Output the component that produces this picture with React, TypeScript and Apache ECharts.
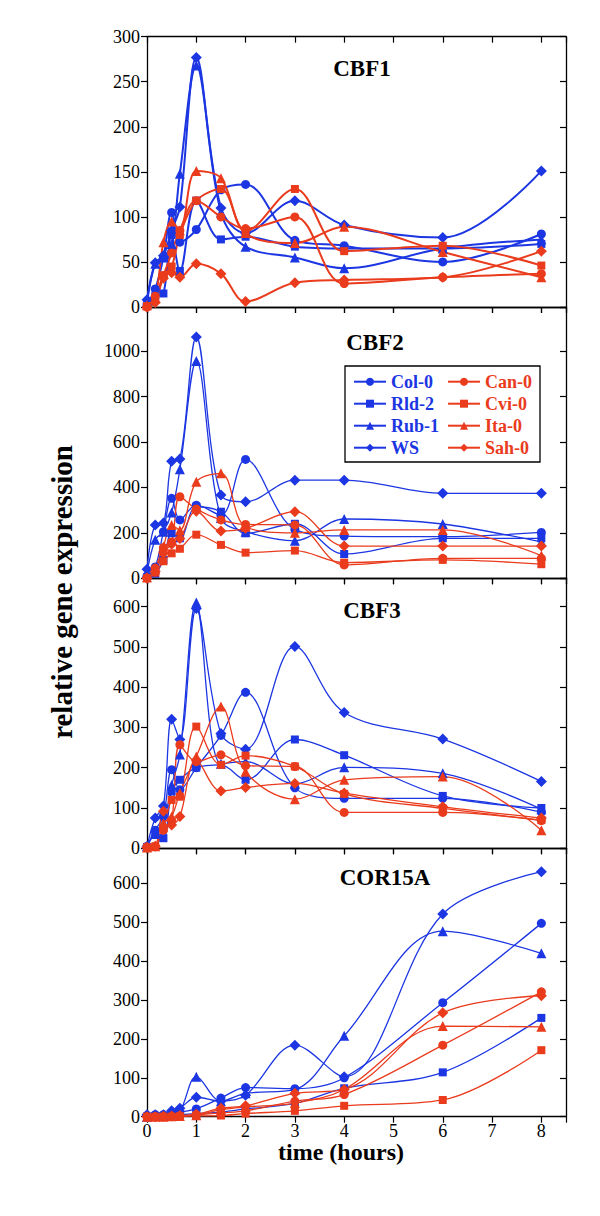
import React, { useEffect, useRef } from "react";
import * as echarts from "echarts";

const times = [0, 0.167, 0.333, 0.5, 0.667, 1, 1.5, 2, 3, 4, 6, 8];
const xTicks = [0, 1, 2, 3, 4, 5, 6, 7, 8];

const blueNames = ["Col-0", "Rld-2", "Rub-1", "WS"];
const redNames = ["Can-0", "Cvi-0", "Ita-0", "Sah-0"];

// CBF1
const cbf1Col0 = [3, 20, 55, 105, 72, 86, 130, 136, 74, 68, 50, 81];
const cbf1Rld2 = [2, 12, 15, 80, 40, 118, 75, 78, 67, 65, 65, 70];
const cbf1Rub1 = [5, 48, 55, 70, 148, 268, 105, 67, 55, 43, 65, 75];
const cbf1WS = [8, 49, 57, 85, 111, 277, 110, 82, 118, 91, 77, 151];
const cbf1Can0 = [0, 12, 35, 60, 85, 118, 100, 87, 100, 26, 33, 37];
const cbf1Cvi0 = [1, 8, 35, 45, 80, 118, 131, 84, 131, 62, 68, 46];
const cbf1Ita0 = [2, 10, 72, 95, 85, 151, 143, 82, 71, 89, 61, 33];
const cbf1Sah0 = [0, 5, 32, 38, 33, 48, 37, 6, 27, 30, 33, 62];

// CBF2
const cbf2Col0 = [10, 50, 205, 352, 257, 322, 278, 523, 215, 186, 183, 202];
const cbf2Rld2 = [5, 20, 80, 198, 176, 315, 293, 198, 240, 107, 176, 176];
const cbf2Rub1 = [25, 170, 205, 290, 480, 956, 265, 205, 165, 261, 239, 160];
const cbf2WS = [40, 235, 243, 515, 525, 1062, 367, 337, 432, 432, 374, 374];
const cbf2Can0 = [2, 45, 135, 160, 359, 305, 257, 237, 235, 59, 88, 88];
const cbf2Cvi0 = [0, 25, 75, 110, 130, 192, 147, 113, 122, 69, 81, 62];
const cbf2Ita0 = [5, 40, 140, 235, 212, 425, 462, 227, 200, 213, 213, 100];
const cbf2Sah0 = [0, 30, 110, 150, 175, 295, 208, 220, 293, 142, 142, 142];

// CBF3
const cbf3Col0 = [5, 45, 80, 195, 145, 200, 280, 387, 150, 124, 124, 90];
const cbf3Rld2 = [3, 33, 25, 141, 170, 200, 207, 170, 270, 231, 130, 100];
const cbf3Rub1 = [5, 40, 62, 157, 233, 610, 210, 215, 160, 201, 186, 97];
const cbf3WS = [4, 75, 105, 320, 270, 595, 285, 246, 501, 337, 271, 166];
const cbf3Can0 = [3, 5, 45, 70, 257, 215, 232, 205, 203, 89, 89, 69];
const cbf3Cvi0 = [2, 5, 50, 120, 128, 302, 207, 230, 203, 135, 99, 70];
const cbf3Ita0 = [2, 5, 62, 79, 137, 228, 352, 190, 122, 170, 178, 45];
const cbf3Sah0 = [2, 5, 92, 58, 79, 219, 142, 151, 161, 137, 103, 75];

// COR15A
const corCol0 = [3, 5, 5, 10, 12, 20, 48, 75, 72, 100, 293, 497];
const corRld2 = [0, 2, 2, 4, 5, 8, 12, 20, 34, 73, 114, 254];
const corRub1 = [0, 2, 3, 10, 15, 103, 40, 60, 70, 208, 477, 420];
const corWS = [5, 5, 5, 15, 22, 50, 40, 55, 184, 103, 521, 630];
const corCan0 = [0, 0, 0, 1, 2, 5, 10, 15, 40, 57, 184, 321];
const corCvi0 = [0, 0, 0, 0, 1, 2, 3, 8, 15, 28, 43, 171];
const corIta0 = [0, 0, 0, 1, 2, 4, 18, 25, 35, 70, 233, 231];
const corSah0 = [0, 0, 1, 2, 3, 6, 22, 28, 60, 70, 267, 311];

const BLUE = "#1b36e2";
const RED = "#ea3b1d";
const FONT = "Liberation Serif, Times New Roman, serif";

const symbolOf: Record<string, string> = {
  "Col-0": "circle", "Rld-2": "rect", "Rub-1": "triangle", WS: "diamond",
  "Can-0": "circle", "Cvi-0": "rect", "Ita-0": "triangle", "Sah-0": "diamond",
};
const sizeOf: Record<string, number> = { circle: 9, rect: 8, triangle: 10, diamond: 11 };

const panels = [
  {
    title: "CBF1", tx: 362, ty: 68, top: 36.7, height: 270.3, max: 300, step: 50, lw: 2,
    values: [cbf1Col0, cbf1Rld2, cbf1Rub1, cbf1WS, cbf1Can0, cbf1Cvi0, cbf1Ita0, cbf1Sah0],
  },
  {
    title: "CBF2", tx: 375, ty: 342, top: 307, height: 271.3, max: 1194, step: 200, lw: 1.3,
    values: [cbf2Col0, cbf2Rld2, cbf2Rub1, cbf2WS, cbf2Can0, cbf2Cvi0, cbf2Ita0, cbf2Sah0],
  },
  {
    title: "CBF3", tx: 372, ty: 610, top: 578.3, height: 270, max: 670, step: 100, lw: 1.3,
    values: [cbf3Col0, cbf3Rld2, cbf3Rub1, cbf3WS, cbf3Can0, cbf3Cvi0, cbf3Ita0, cbf3Sah0],
  },
  {
    title: "COR15A", tx: 385, ty: 877, top: 848.3, height: 268.4, max: 690, step: 100, lw: 1.3,
    values: [corCol0, corRld2, corRub1, corWS, corCan0, corCvi0, corIta0, corSah0],
  },
];

const LEFT = 147;
const WIDTH = 419;

export default function App() {
  const ref = useRef<HTMLDivElement>(null);
  useEffect(() => {
    document.body.style.margin = "0";
    const chart = echarts.init(ref.current!, null, { renderer: "svg" });
    const names = [...blueNames, ...redNames];
    const axisLine = { show: true, onZero: false, lineStyle: { color: "#000", width: 1.3 } };
    const tickStyle = { color: "#000", width: 1.2 };
    const grid: any[] = [];
    const xAxis: any[] = [];
    const yAxis: any[] = [];
    const series: any[] = [];
    const graphic: any[] = [];
    panels.forEach((p, i) => {
      grid.push({ left: LEFT, top: p.top, width: WIDTH, height: p.height, containLabel: false });
      xAxis.push({
        gridIndex: i, type: "value", min: 0, max: 8.5, interval: 1, position: "bottom",
        axisLine, axisTick: { show: true, inside: false, length: 6, lineStyle: tickStyle },
        splitLine: { show: false },
        axisLabel: {
          show: i === 3, margin: 5, color: "#000", fontFamily: FONT, fontSize: 18,
          formatter: (v: number) => (xTicks.includes(v) ? String(v) : ""),
        },
      });
      xAxis.push({
        gridIndex: i, type: "value", min: 0, max: 8.5, interval: 1, position: "top",
        axisLine, axisTick: { show: true, inside: true, length: 6, lineStyle: tickStyle },
        splitLine: { show: false }, axisLabel: { show: false },
      });
      yAxis.push({
        gridIndex: i, type: "value", min: 0, max: p.max, interval: p.step, position: "left",
        axisLine, axisTick: { show: true, inside: false, length: 6, lineStyle: tickStyle },
        splitLine: { show: false },
        axisLabel: {
          margin: 7, color: "#000", fontFamily: FONT, fontSize: 18,
          formatter: (v: number) => (v % p.step === 0 ? String(v) : ""),
        },
      });
      yAxis.push({
        gridIndex: i, type: "value", min: 0, max: p.max, interval: p.step, position: "right",
        axisLine, axisTick: { show: true, inside: true, length: 6, lineStyle: tickStyle },
        splitLine: { show: false }, axisLabel: { show: false },
      });
      names.forEach((n, k) => {
        const color = k < 4 ? BLUE : RED;
        const sym = symbolOf[n];
        series.push({
          type: "line", name: n, xAxisIndex: i * 2, yAxisIndex: i * 2,
          data: times.map((t, j) => [t, p.values[k][j]]),
          smooth: 0.35, symbol: sym, symbolSize: sizeOf[sym],
          showAllSymbol: true,
          lineStyle: { color, width: p.lw },
          itemStyle: { color, borderWidth: 0 },
          emphasis: { disabled: true },
        });
      });
      graphic.push({
        type: "text", x: p.tx, y: p.ty, z: 10,
        style: {
          text: p.title, fontFamily: FONT, fontSize: 23, fontWeight: "bold", fill: "#000",
          textAlign: "center", textVerticalAlign: "middle", align: "center", verticalAlign: "middle",
        },
      });
    });
    graphic.push({
      type: "rect", z: 3,
      shape: { x: 345, y: 366, width: 195, height: 96 },
      style: { fill: "#fff", stroke: "#000", lineWidth: 1.3 },
    });
    graphic.push({
      type: "text", x: 341, y: 1152, z: 10,
      style: {
        text: "time (hours)", fontFamily: FONT, fontSize: 24, fontWeight: "bold", fill: "#000",
        textAlign: "center", textVerticalAlign: "middle", align: "center", verticalAlign: "middle",
      },
    });
    graphic.push({
      type: "text", x: 62, y: 592, rotation: Math.PI / 2, z: 10,
      style: {
        text: "relative gene expression", fontFamily: FONT, fontSize: 29, fontWeight: "bold", fill: "#000",
        textAlign: "center", textVerticalAlign: "middle", align: "center", verticalAlign: "middle",
      },
    });
    const legendBase = {
      orient: "vertical", itemWidth: 32, itemHeight: 10, itemGap: 0, padding: 0, top: 370.7,
      selectedMode: false, z: 5,
      textStyle: { fontFamily: FONT, fontSize: 18, fontWeight: "bold", lineHeight: 22 },
    };
    chart.setOption({
      animation: false,
      backgroundColor: "#fff",
      grid, xAxis, yAxis, series, graphic,
      legend: [
        { ...legendBase, left: 353, data: blueNames.map((n) => ({ name: n, textStyle: { color: BLUE } })) },
        { ...legendBase, left: 447, data: redNames.map((n) => ({ name: n, textStyle: { color: RED } })) },
      ],
    });
    return () => chart.dispose();
  }, []);
  return <div ref={ref} style={{ width: 600, height: 1216 }} />;
}
